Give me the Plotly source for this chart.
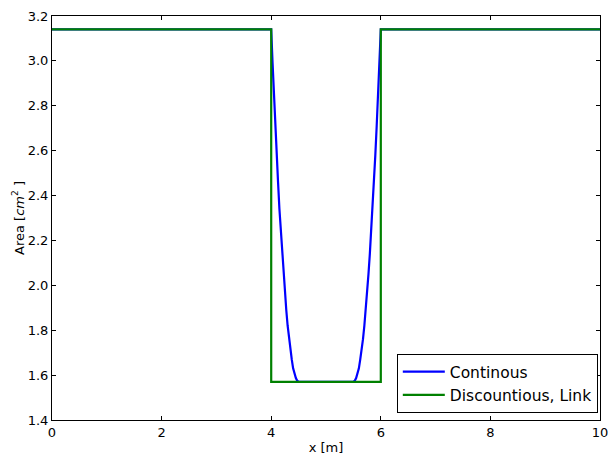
import plotly.graph_objects as go

# Continuous cross-section area along the pipe [cm^2]
x_down = [4.0, 4.025, 4.05, 4.075, 4.1, 4.125, 4.15, 4.175, 4.2, 4.225, 4.25,
          4.275, 4.3, 4.325, 4.35, 4.375, 4.4, 4.425, 4.45, 4.475, 4.5]
a_down = [3.14, 2.99, 2.84, 2.71, 2.58, 2.46, 2.34, 2.24, 2.14, 2.05, 1.96,
          1.89, 1.82, 1.76, 1.71, 1.67, 1.63, 1.605, 1.587, 1.575, 1.57]
x_up = [5.5, 5.525, 5.55, 5.575, 5.6, 5.625, 5.65, 5.675, 5.7, 5.725, 5.75,
        5.775, 5.8, 5.825, 5.85, 5.875, 5.9, 5.925, 5.95, 5.975, 6.0]
a_up = [1.57, 1.575, 1.587, 1.605, 1.63, 1.67, 1.71, 1.76, 1.82, 1.89, 1.96,
        2.05, 2.14, 2.24, 2.34, 2.46, 2.58, 2.71, 2.84, 2.99, 3.14]
x_cont = [0.0] + x_down + x_up + [10.0]
a_cont = [3.14] + a_down + a_up + [3.14]

# Discontinuous (link) area: step down at x=4, back up at x=6
x_disc = [0.0, 4.0, 4.0, 6.0, 6.0, 10.0]
a_disc = [3.14, 3.14, 1.57, 1.57, 3.14, 3.14]

x_ticks = [0, 2, 4, 6, 8, 10]
y_ticks = [1.4, 1.6, 1.8, 2.0, 2.2, 2.4, 2.6, 2.8, 3.0, 3.2]

font = dict(family="DejaVu Sans", size=13, color="black")

fig = go.Figure()
fig.add_trace(go.Scatter(x=x_cont, y=a_cont, mode="lines", name="Continous",
                         line=dict(color="#0000ff", width=2.2)))
fig.add_trace(go.Scatter(x=x_disc, y=a_disc, mode="lines", name="Discountious, Link",
                         line=dict(color="#008000", width=2.2)))

axis_common = dict(showgrid=False, zeroline=False, showline=True, linecolor="black",
                   linewidth=1, mirror="ticks", ticks="inside", ticklen=4,
                   tickcolor="black", tickfont=font, automargin=False,
                   ticklabeloverflow="allow")

fig.update_xaxes(range=[0, 10], tickvals=x_ticks, ticktext=[str(v) for v in x_ticks],
                 title=dict(text="x [m]", font=font, standoff=6), **axis_common)
fig.update_yaxes(range=[1.4, 3.2], tickvals=y_ticks, ticktext=[f"{v:.1f}" for v in y_ticks],
                 title=dict(text="Area [<i>cm</i><sup>2</sup> ]", font=font, standoff=0),
                 **axis_common)

fig.update_layout(
    width=608, height=455,
    margin=dict(l=52, r=8, t=16, b=35),
    plot_bgcolor="white", paper_bgcolor="white",
    font=font,
    legend=dict(x=0.996, y=0.017, xanchor="right", yanchor="bottom",
                bgcolor="white", bordercolor="black", borderwidth=1,
                font=dict(family="DejaVu Sans", size=15.5, color="black"),
                tracegroupgap=0, itemwidth=42),
    showlegend=True,
)

fig.write_html("out.html")
